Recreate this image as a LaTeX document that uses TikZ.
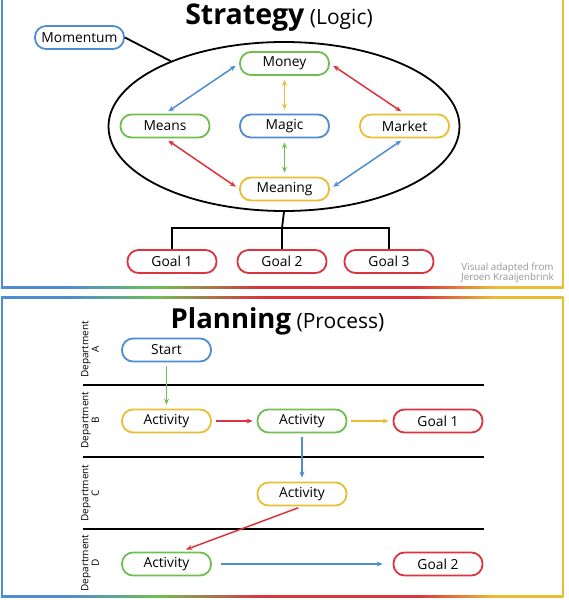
\documentclass[tikz,border=0pt]{standalone}
\usepackage{fontspec}
\setmainfont{Open Sans}
\usetikzlibrary{shapes.geometric,arrows.meta}
\definecolor{blu}{RGB}{78,141,209}
\definecolor{grn}{RGB}{112,190,82}
\definecolor{ylw}{RGB}{234,190,52}
\definecolor{rd}{RGB}{219,52,62}
\definecolor{gry}{RGB}{150,150,150}
\pgfdeclarehorizontalshading{bandshade}{100bp}{color(0bp)=(blu); color(25bp)=(blu); color(31bp)=(blu); color(39bp)=(grn); color(48bp)=(rd); color(62bp)=(rd); color(69bp)=(ylw); color(75bp)=(ylw); color(100bp)=(ylw)}
\tikzset{
  pill/.style={draw=#1, line width=1.8pt, rounded corners=11pt, minimum width=89pt, minimum height=23pt, inner sep=0pt, font=\fontsize{13.8}{15}\selectfont},
  arr/.style={#1, line width=1.5pt, shorten <=4pt, shorten >=4pt},
  twoway/.style={arr=#1, {Stealth[length=6pt,width=5pt]}-{Stealth[length=6pt,width=5pt]}},
  oneway/.style={arr=#1, -{Stealth[length=6pt,width=5pt]}},
  dept/.style={rotate=90, align=center, font=\fontsize{10}{10.5}\selectfont},
}

\begin{document}
\begin{tikzpicture}[x=1pt,y=-1pt]
\useasboundingbox[fill=white] (0,0) rectangle (569,600);
% frames
\draw[blu, line width=2pt] (2,-2) -- (2,287);
\draw[ylw, line width=2pt] (562.5,-2) -- (562.5,287);
\shade[shading=bandshade] (1,286) rectangle (563.5,288);
\shade[shading=bandshade] (1,296.5) rectangle (563.5,298.5);
\shade[shading=bandshade] (1,595) rectangle (563.5,597);
\draw[blu, line width=2pt] (2,297) -- (2,596);
\draw[ylw, line width=2pt] (562.5,297) -- (562.5,596);

% strategy
\node[anchor=base] (ttla) at (279,24) {{\fontsize{28.5}{30}\selectfont\bfseries Strategy}{\fontsize{21}{24}\selectfont\ (Logic)}};
\node[ellipse, draw, line width=1.8pt, minimum width=351pt, minimum height=169pt, inner sep=0pt] (ring) at (284,126.5) {};
\node[pill=blu] (momentum) at (79.5,37.5) {Momentum};
\node[pill=grn] (money) at (284.5,63.5) {Money};
\node[pill=grn] (means) at (165,126) {Means};
\node[pill=blu] (magic) at (284.5,126) {Magic};
\node[pill=ylw] (market) at (404.5,126) {Market};
\node[pill=ylw] (meaning) at (284.5,189) {Meaning};
\node[pill=rd] (goala) at (172,261.5) {Goal 1};
\node[pill=rd] (goalb) at (282,261.5) {Goal 2};
\node[pill=rd] (goalc) at (389,261.5) {Goal 3};
\node[gry, align=center, font=\fontsize{9.8}{10.5}\selectfont] (credit) at (507.5,273) {Visual adapted from\\Jeroen Kraaijenbrink};

\draw[line width=1.8pt] (momentum.east) -- (ring.150.5);
\draw[twoway=blu] (money.west) -- (means.north);
\draw[twoway=ylw] (money.south) -- (magic.north);
\draw[twoway=rd] (money.east) -- (market.north);
\draw[twoway=rd] (means.south) -- (meaning.west);
\draw[twoway=grn] (magic.south) -- (meaning.north);
\draw[twoway=blu] (market.south) -- (meaning.east);

\coordinate (fork) at (282,228);
\draw[line width=1.8pt] (ring.south) -- (fork);
\draw[line width=1.8pt] (goala.north) |- (fork) -| (goalc.north);
\draw[line width=1.8pt] (fork) -- (goalb.north);

% planning
\node[anchor=base] (ttlb) at (277.5,328) {{\fontsize{27.5}{30}\selectfont\bfseries Planning}{\fontsize{21}{24}\selectfont\ (Process)}};
\foreach \y in {385,457,529} \draw[line width=2pt] (83,\y) -- (484,\y);
\node[dept] (depa) at (90,349.5) {Department\\A};
\node[dept] (depb) at (90,420) {Department\\B};
\node[dept] (depc) at (90,493) {Department\\C};
\node[dept] (depd) at (90,563) {Department\\D};

\node[pill=blu] (start) at (166.5,350) {Start};
\node[pill=ylw] (acta) at (166.5,421) {Activity};
\node[pill=grn] (actb) at (302,421) {Activity};
\node[pill=rd] (goald) at (438,421) {Goal 1};
\node[pill=ylw] (actc) at (302,494) {Activity};
\node[pill=grn] (actd) at (166.5,564) {Activity};
\node[pill=rd] (goale) at (438,564) {Goal 2};

\draw[oneway=grn] (start.south) -- (acta.north);
\draw[oneway=rd] (acta.east) -- (actb.west);
\draw[oneway=ylw] (actb.east) -- (goald.west);
\draw[oneway=blu] (actb.south) -- (actc.north);
\draw[oneway=rd, shorten >=6pt] (actc.south) -- ([xshift=14pt]actd.north);
\draw[oneway=blu, shorten <=9pt, shorten >=10pt] (actd.east) -- (goale.west);
\end{tikzpicture}
\end{document}
